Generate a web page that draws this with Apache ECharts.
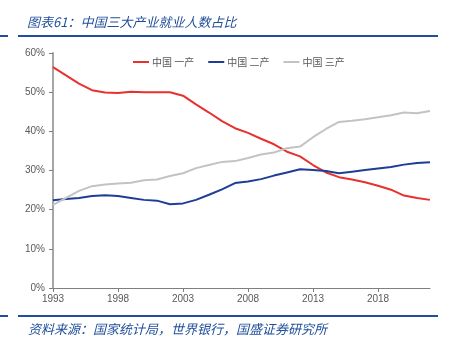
<!DOCTYPE html>
<html>
<head>
<meta charset="utf-8">
<script src="https://cdn.jsdelivr.net/npm/echarts@6/dist/echarts.min.js"></script>
<style>
html,body{margin:0;padding:0;background:#fff;}
#main{width:454px;height:353px;}
</style>
</head>
<body>
<div id="main"></div>
<script>
var years=[];
for(var y=1993;y<=2022;y++){years.push(String(y));}
var primary=[56.4,54.3,52.2,50.5,49.9,49.8,50.1,50.0,50.0,50.0,49.1,46.9,44.8,42.6,40.8,39.6,38.1,36.7,34.8,33.6,31.4,29.5,28.3,27.7,27.0,26.1,25.1,23.6,23.0,22.5];
var secondary=[22.4,22.7,23.0,23.5,23.7,23.5,23.0,22.5,22.3,21.4,21.6,22.5,23.8,25.2,26.8,27.2,27.8,28.7,29.5,30.3,30.1,29.9,29.3,29.7,30.1,30.5,30.9,31.5,31.9,32.1];
var tertiary=[21.2,23.0,24.8,26.0,26.4,26.7,26.9,27.5,27.7,28.6,29.3,30.6,31.4,32.2,32.4,33.2,34.1,34.6,35.7,36.1,38.5,40.6,42.4,42.7,43.1,43.6,44.1,44.8,44.6,45.2];
var names=['中国 一产','中国 二产','中国 三产'];
var colors=['#e8302e','#1e3d96','#c3c3c3'];

var chart=echarts.init(document.getElementById('main'));
var titleColor='#1f4e9a';
chart.setOption({
  animation:false,
  color:colors,
  title:[{
    text:'图表61：中国三大产业就业人数占比',
    left:22,top:11,
    textStyle:{fontFamily:'Noto Sans CJK SC',fontStyle:'italic',fontWeight:'normal',fontSize:13,color:titleColor}
  },{
    text:'资料来源：国家统计局，世界银行，国盛证券研究所',
    left:23,top:318,
    textStyle:{fontFamily:'Noto Sans CJK SC',fontStyle:'italic',fontWeight:'normal',fontSize:13,color:titleColor}
  }],
  graphic:[
    {type:'line',shape:{x1:0,y1:36,x2:8,y2:36},style:{stroke:titleColor,lineWidth:2}},
    {type:'line',shape:{x1:18,y1:36,x2:438,y2:36},style:{stroke:titleColor,lineWidth:2}},
    {type:'line',shape:{x1:0,y1:316,x2:8,y2:316},style:{stroke:titleColor,lineWidth:2}},
    {type:'line',shape:{x1:18,y1:316,x2:438,y2:316},style:{stroke:titleColor,lineWidth:2}}
  ],
  legend:{
    top:52,left:128,
    itemWidth:16,itemHeight:2,itemGap:14,
    icon:'rect',
    textStyle:{fontFamily:'Noto Sans CJK SC',fontSize:10,color:'#595959',padding:[0,0,0,-2]},
    data:names
  },
  grid:{left:53,right:24,top:53,bottom:65},
  xAxis:{
    type:'category',
    boundaryGap:false,
    data:years,
    axisLine:{lineStyle:{color:'#7f7f7f',width:1}},
    axisTick:{interval:4,length:4,lineStyle:{color:'#7f7f7f'}},
    axisLabel:{interval:4,color:'#595959',fontFamily:'Liberation Sans',fontSize:10,margin:6}
  },
  yAxis:{
    type:'value',
    min:0,max:60,interval:10,
    axisLine:{show:true,lineStyle:{color:'#a6a6a6',width:2}},
    axisTick:{show:true,length:4,lineStyle:{color:'#7f7f7f'}},
    splitLine:{show:false},
    axisLabel:{formatter:'{value}%',color:'#595959',fontFamily:'Liberation Sans',fontSize:10,margin:8}
  },
  series:[
    {name:names[0],type:'line',data:primary,symbol:'none',lineStyle:{width:2}},
    {name:names[1],type:'line',data:secondary,symbol:'none',lineStyle:{width:2}},
    {name:names[2],type:'line',data:tertiary,symbol:'none',lineStyle:{width:2}}
  ]
});
</script>
</body>
</html>
